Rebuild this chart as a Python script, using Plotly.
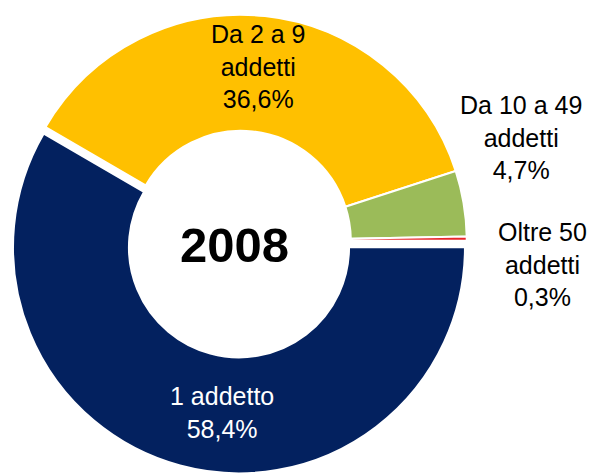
import plotly.graph_objects as go

# Dati: imprese per classe di addetti, anno 2008
classi = ["1 addetto", "Da 2 a 9<br>addetti", "Da 10 a 49<br>addetti", "Oltre 50<br>addetti"]
quote = [58.4, 36.6, 4.7, 0.3]
anno = "2008"

colori = ["#03215f", "#ffc000", "#9bbb59", "#e8262a"]
colori_testo = ["white", "black", "black", "black"]
# posizione delle etichette (coordinate paper)
pos_etichette = [(0.355, 0.144), (0.415, 0.877), (0.851, 0.727), (0.887, 0.457)]

fig = go.Figure()
fig.add_trace(go.Pie(
    values=quote,
    labels=classi,
    sort=False,
    direction="clockwise",
    rotation=90,
    hole=0.487,
    pull=[0.03, 0, 0, 0],
    marker=dict(colors=colori, line=dict(color="white", width=2)),
    textinfo="none",
    showlegend=False,
    domain=dict(x=[0, 0.772], y=[0.0156, 1]),
))

# etichette con percentuale (virgola decimale)
annotazioni = []
for nome, q, col, (px, py) in zip(classi, quote, colori_testo, pos_etichette):
    testo = nome + "<br>" + f"{q:.1f}".replace(".", ",") + "%"
    annotazioni.append(dict(x=px, y=py, xref="paper", yref="paper", text=testo,
                            xanchor="center", yanchor="middle",
                            showarrow=False, align="center",
                            font=dict(size=25, color=col, family="Liberation Sans, Arial")))

annotazioni.append(dict(x=0.375, y=0.50, xref="paper", yref="paper", text="<b>" + anno + "</b>",
                        xanchor="center", yanchor="middle", showarrow=False,
                        font=dict(size=49, color="black", family="Liberation Sans, Arial")))

fig.update_layout(
    width=603, height=473,
    margin=dict(l=0, r=0, t=0, b=0),
    paper_bgcolor="white",
    plot_bgcolor="white",
    annotations=annotazioni,
)

fig.write_html("out.html")
